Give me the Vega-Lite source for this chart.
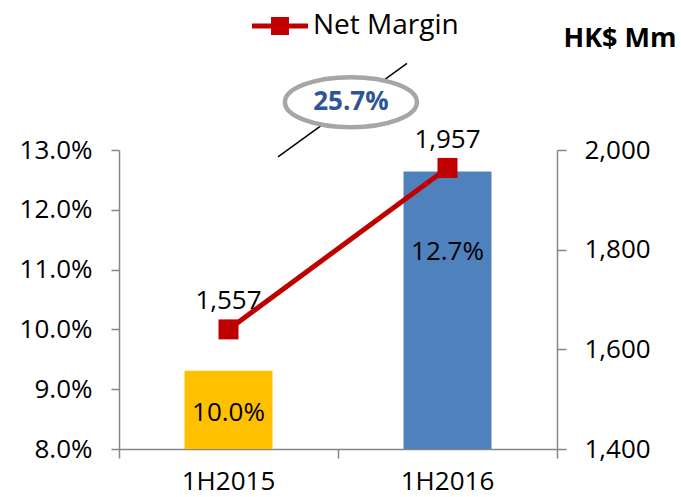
{
  "$schema": "https://vega.github.io/schema/vega-lite/v6.json",
  "width": 438,
  "height": 299,
  "autosize": {"type": "none"},
  "padding": {"left": 119, "top": 150, "right": 124, "bottom": 48},
  "config": {
    "view": {"stroke": null},
    "font": "Open Sans",
    "axis": {"labelFont": "Open Sans", "labelColor": "black", "domainColor": "#868686", "tickColor": "#868686", "grid": false, "domainWidth": 1.5, "tickWidth": 1.5}
  },
  "datasets": {
    "main": [
      {"period": "1H2015", "sales": 1557, "margin": 0.100, "series": "Net Margin"},
      {"period": "1H2016", "sales": 1957, "margin": 0.127, "series": "Net Margin"}
    ],
    "arrow": [
      {"ax": 0.726, "ay": 1986},
      {"ax": 1.315, "ay": 2174}
    ],
    "growth": [
      {"ax": 1.059, "ay": 2096, "label": "25.7%"}
    ]
  },
  "resolve": {"scale": {"x": "independent", "y": "independent", "color": "independent"}},
  "layer": [
    {
      "data": {"name": "main"},
      "mark": {"type": "bar", "size": 88, "clip": true},
      "encoding": {
        "x": {"field": "period", "type": "nominal", "scale": {"domain": ["1H2015", "1H2016"], "paddingInner": 0, "paddingOuter": 0},
              "axis": {"orient": "bottom", "ticks": false, "domain": false, "labelFontSize": 26, "labelPadding": 19, "labelAngle": 0, "labelColor": "black", "title": null}},
        "y": {"field": "sales", "type": "quantitative", "scale": {"domain": [1400, 2000], "nice": false, "zero": false},
              "axis": {"orient": "right", "values": [1400, 1600, 1800, 2000], "format": ",.0f", "labelFontSize": 26, "labelPadding": 18, "tickSize": 9,
                       "title": "HK$ Mm", "titleAngle": 0, "titleAlign": "left", "titleBaseline": "middle", "titleX": 6, "titleY": -112, "titleFontSize": 27, "titleFontWeight": "bold", "titleColor": "black", "titleFont": "Open Sans"}},
        "color": {"field": "period", "type": "nominal", "scale": {"domain": ["1H2015", "1H2016"], "range": ["#FFC000", "#4F81BD"]}, "legend": null}
      }
    },
    {
      "data": {"name": "main"},
      "mark": {"type": "line", "strokeWidth": 5},
      "encoding": {
        "x": {"field": "period", "type": "nominal", "scale": {"domain": ["1H2015", "1H2016"], "paddingInner": 0, "paddingOuter": 0}, "axis": null},
        "y": {"field": "margin", "type": "quantitative", "scale": {"domain": [0.08, 0.13], "nice": false, "zero": false},
              "axis": {"orient": "left", "values": [0.08, 0.09, 0.10, 0.11, 0.12, 0.13], "format": ".1%", "labelFontSize": 26, "labelPadding": 19, "tickSize": 8, "title": null}},
        "color": {"field": "series", "type": "nominal", "scale": {"range": ["#C00000"]},
                  "legend": {"orient": "none", "legendX": 133, "legendY": -152, "title": null, "padding": 0,
                             "symbolType": "M -1 -0.085 L 1 -0.085 L 1 0.085 L -1 0.085 Z M -0.32 -0.32 L 0.32 -0.32 L 0.32 0.32 L -0.32 0.32 Z",
                             "symbolSize": 3136, "labelFontSize": 28, "labelFont": "Open Sans", "labelColor": "black", "labelOffset": 5,
                             "encode": {"symbols": {"update": {"fill": {"value": "#C00000"}, "stroke": {"value": "transparent"}, "strokeWidth": {"value": 0}, "opacity": {"value": 1}}}}}}
      }
    },
    {
      "data": {"name": "main"},
      "mark": {"type": "square", "size": 400, "color": "#C00000", "opacity": 1},
      "encoding": {
        "x": {"field": "period", "type": "nominal", "scale": {"domain": ["1H2015", "1H2016"], "paddingInner": 0, "paddingOuter": 0}, "axis": null},
        "y": {"field": "margin", "type": "quantitative", "scale": {"domain": [0.08, 0.13], "nice": false, "zero": false}, "axis": null}
      }
    },
    {
      "data": {"name": "main"},
      "mark": {"type": "text", "fontSize": 26, "color": "black", "dy": -28, "baseline": "middle"},
      "encoding": {
        "x": {"field": "period", "type": "nominal", "scale": {"domain": ["1H2015", "1H2016"], "paddingInner": 0, "paddingOuter": 0}, "axis": null},
        "y": {"field": "margin", "type": "quantitative", "scale": {"domain": [0.08, 0.13], "nice": false, "zero": false}, "axis": null},
        "text": {"field": "sales", "type": "quantitative", "format": ","}
      }
    },
    {
      "data": {"name": "main"},
      "mark": {"type": "text", "fontSize": 26, "color": "black", "dy": 84, "baseline": "middle"},
      "encoding": {
        "x": {"field": "period", "type": "nominal", "scale": {"domain": ["1H2015", "1H2016"], "paddingInner": 0, "paddingOuter": 0}, "axis": null},
        "y": {"field": "margin", "type": "quantitative", "scale": {"domain": [0.08, 0.13], "nice": false, "zero": false}, "axis": null},
        "text": {"field": "margin", "type": "quantitative", "format": ".1%"}
      }
    },
    {
      "data": {"name": "arrow"},
      "mark": {"type": "line", "color": "black", "strokeWidth": 1.5},
      "encoding": {
        "x": {"field": "ax", "type": "quantitative", "scale": {"domain": [0, 2], "nice": false, "zero": false},
              "axis": {"orient": "bottom", "values": [0, 1, 2], "labels": false, "tickSize": 9, "domain": true, "title": null}},
        "y": {"field": "ay", "type": "quantitative", "scale": {"domain": [1400, 2000], "nice": false, "zero": false}, "axis": null}
      }
    },
    {
      "data": {"name": "growth"},
      "mark": {"type": "point", "shape": "M -1 0 A 1 0.379 0 1 1 1 0 A 1 0.379 0 1 1 -1 0 Z", "size": 17424, "filled": false, "fill": "white", "fillOpacity": 1, "stroke": "#A6A6A6", "strokeWidth": 4.5, "opacity": 1},
      "encoding": {
        "x": {"field": "ax", "type": "quantitative", "scale": {"domain": [0, 2], "nice": false, "zero": false}, "axis": null},
        "y": {"field": "ay", "type": "quantitative", "scale": {"domain": [1400, 2000], "nice": false, "zero": false}, "axis": null}
      }
    },
    {
      "data": {"name": "growth"},
      "mark": {"type": "text", "fontSize": 26, "fontWeight": "bold", "color": "#2F5597", "baseline": "middle", "align": "center"},
      "encoding": {
        "x": {"field": "ax", "type": "quantitative", "scale": {"domain": [0, 2], "nice": false, "zero": false}, "axis": null},
        "y": {"field": "ay", "type": "quantitative", "scale": {"domain": [1400, 2000], "nice": false, "zero": false}, "axis": null},
        "text": {"field": "label", "type": "nominal"}
      }
    }
  ]
}
